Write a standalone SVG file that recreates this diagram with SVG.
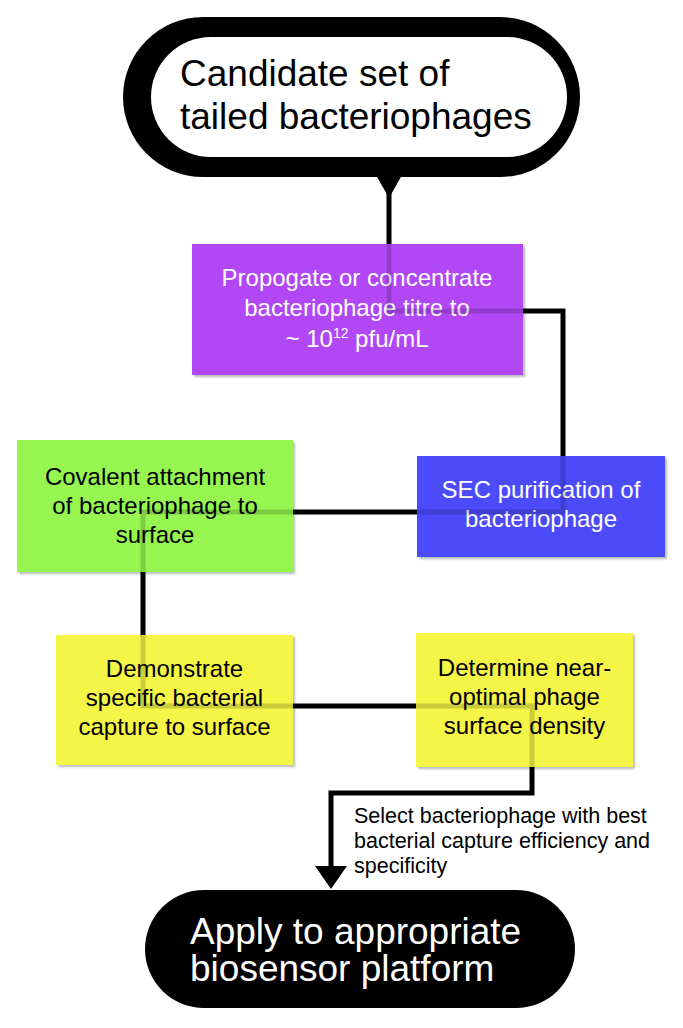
<svg xmlns="http://www.w3.org/2000/svg" width="683" height="1028" viewBox="0 0 683 1028">
  <style>
    .t { font-family: "Liberation Sans", Arial, Helvetica, sans-serif; }
    .bx { font-size: 24px; text-anchor: middle; }
    .wh { fill: #ffffff; }
    .bk { fill: #000000; }
    .conn { fill: none; stroke: #000000; stroke-width: 5; stroke-linejoin: miter; }
    .box { filter: url(#shadow); }
  </style>
  <defs>
    <filter id="shadow" x="-5%" y="-5%" width="115%" height="115%">
      <feDropShadow dx="2" dy="2" stdDeviation="1.2" flood-color="#5a6a70" flood-opacity="0.45"/>
    </filter>
    <marker id="arrow" viewBox="0 0 23 32" refX="0" refY="16" markerWidth="23" markerHeight="32" markerUnits="userSpaceOnUse" orient="auto">
      <path d="M0,0 L23,16 L0,32 z" fill="#000000"/>
    </marker>
    <mask id="behindBoxes" maskUnits="userSpaceOnUse" x="0" y="0" width="683" height="1028">
      <rect x="0" y="0" width="683" height="1028" fill="#ffffff"/>
      <rect x="192" y="244" width="331" height="131" fill="#2a2a2a"/>
      <rect x="417" y="456" width="248" height="101" fill="#2a2a2a"/>
      <rect x="17" y="440" width="276" height="132" fill="#2a2a2a"/>
      <rect x="56" y="635" width="237" height="130" fill="#2a2a2a"/>
      <rect x="416" y="633" width="217" height="134" fill="#2a2a2a"/>
    </mask>
  </defs>
  <rect width="683" height="1028" fill="#ffffff"/>

  <g id="node-start">
    <rect x="123" y="17" width="457" height="160" rx="80" ry="80" fill="#000000"/>
    <rect x="151" y="37" width="416" height="120" rx="60" ry="60" fill="#ffffff"/>
    <polygon points="376,175 402,175 389,198" fill="#000000"/>
    <text class="t bk" x="180" y="86" font-size="37">Candidate set of</text>
    <text class="t bk" x="180" y="129" font-size="37">tailed bacteriophages</text>
  </g>

  <g id="node-propagate">
    <rect class="box" x="192" y="244" width="331" height="131" fill="#b246f6"/>
    <text class="t bx wh" x="357" y="286">Propogate or concentrate</text>
    <text class="t bx wh" x="357" y="316">bacteriophage titre to</text>
    <text class="t bx wh" x="357" y="347">~ 10<tspan font-size="14" dy="-9">12</tspan><tspan dy="9"> pfu/mL</tspan></text>
  </g>

  <g id="node-sec">
    <rect class="box" x="417" y="456" width="248" height="101" fill="#4c4cfa"/>
    <text class="t bx wh" x="541" y="498">SEC purification of</text>
    <text class="t bx wh" x="541" y="527">bacteriophage</text>
  </g>

  <g id="node-covalent">
    <rect class="box" x="17" y="440" width="276" height="132" fill="#96f550"/>
    <text class="t bx bk" x="155" y="485">Covalent attachment</text>
    <text class="t bx bk" x="155" y="514">of bacteriophage to</text>
    <text class="t bx bk" x="155" y="543">surface</text>
  </g>

  <g id="node-demonstrate">
    <rect class="box" x="56" y="635" width="237" height="130" fill="#f5f546"/>
    <text class="t bx bk" x="174.5" y="677">Demonstrate</text>
    <text class="t bx bk" x="174.5" y="706">specific bacterial</text>
    <text class="t bx bk" x="174.5" y="735">capture to surface</text>
  </g>

  <g id="node-determine">
    <rect class="box" x="416" y="633" width="217" height="134" fill="#f5f546"/>
    <text class="t bx bk" x="524.5" y="676">Determine near-</text>
    <text class="t bx bk" x="524.5" y="705">optimal phage</text>
    <text class="t bx bk" x="524.5" y="734">surface density</text>
  </g>

  <g id="label-select">
    <text class="t bk" x="354" y="823" font-size="21.5">Select bacteriophage with best</text>
    <text class="t bk" x="354" y="848" font-size="21.5">bacterial capture efficiency and</text>
    <text class="t bk" x="354" y="873" font-size="21.5">specificity</text>
  </g>

  <g id="node-end">
    <rect x="145" y="890" width="430" height="118" rx="59" ry="59" fill="#000000"/>
    <text class="t wh" x="190" y="944" font-size="37">Apply to appropriate</text>
    <text class="t wh" x="190" y="981" font-size="37">biosensor platform</text>
  </g>

  <g id="connectors" mask="url(#behindBoxes)">
    <path class="conn" d="M389,192 V311 H563 V512 H143 V706 H532 V793 H331 V866" marker-end="url(#arrow)"/>
  </g>
</svg>
